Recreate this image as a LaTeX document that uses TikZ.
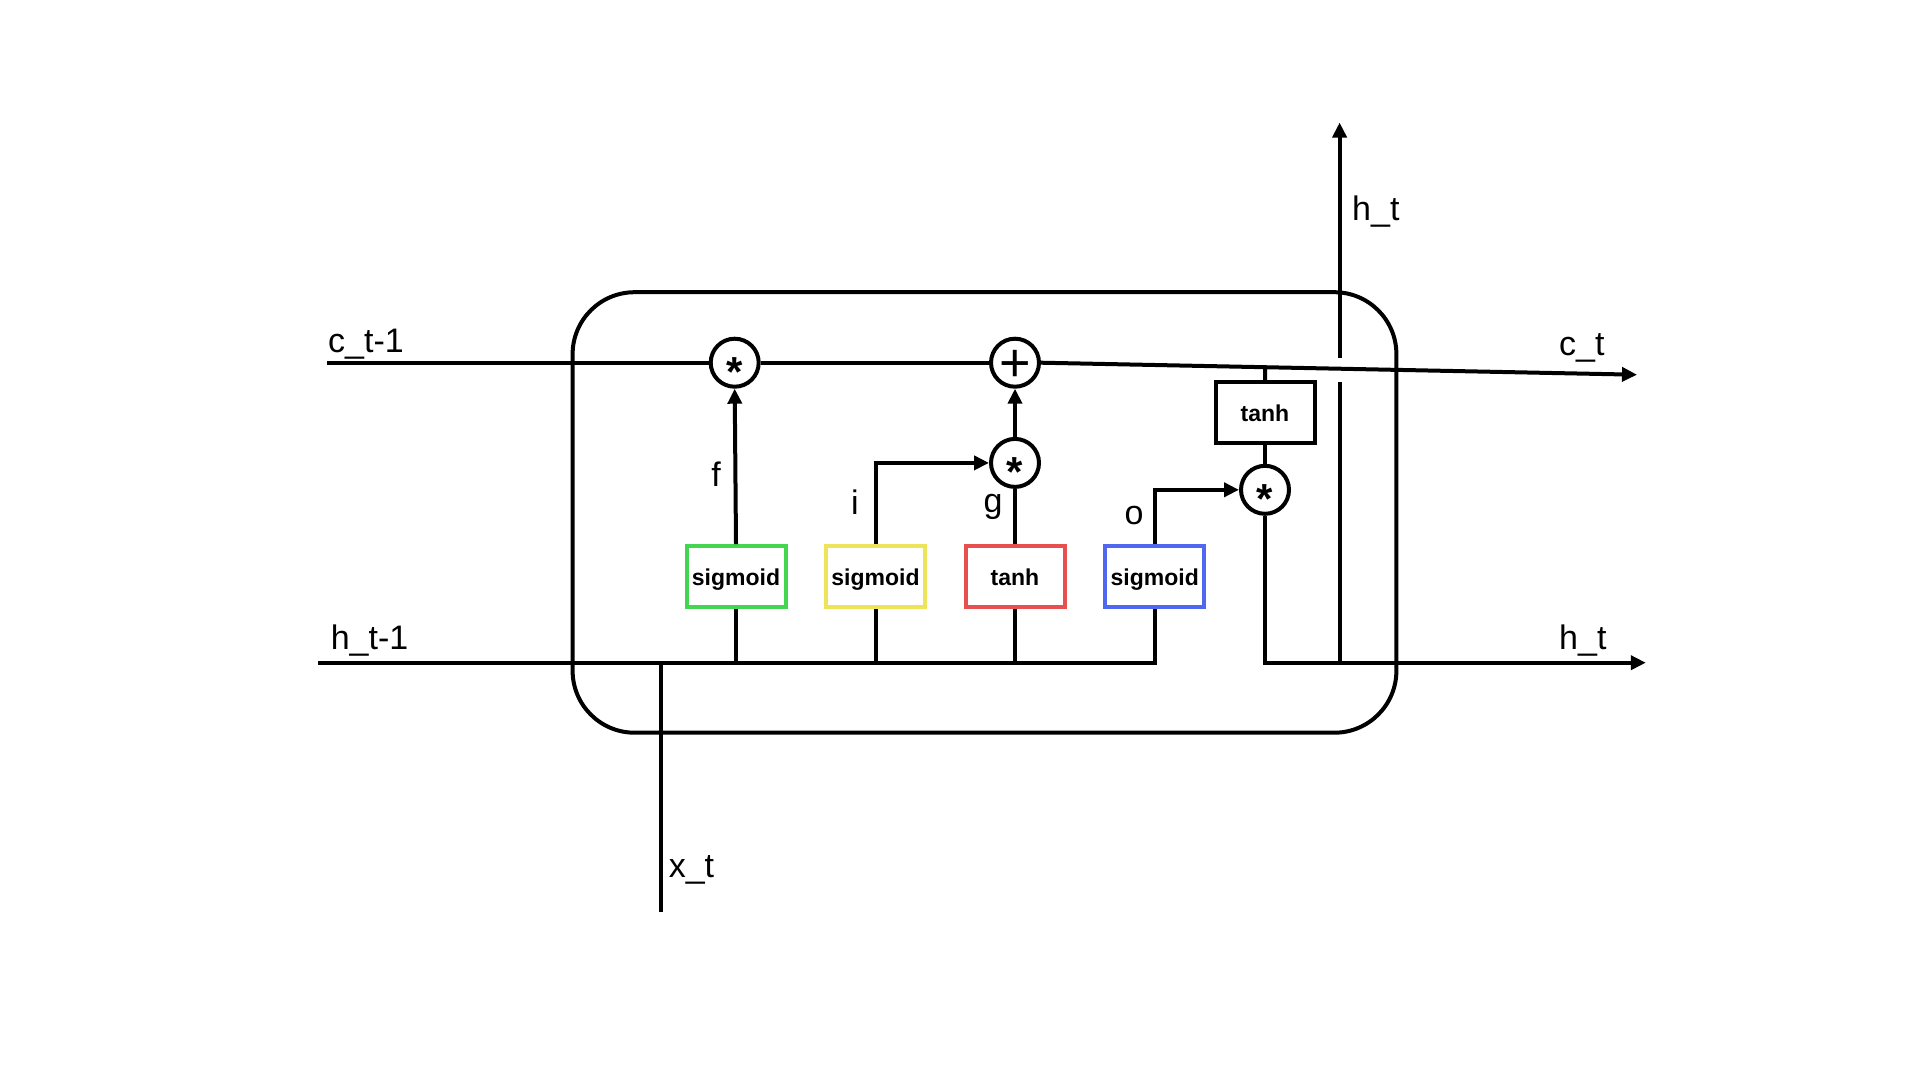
\documentclass[tikz,border=0pt]{standalone}
\usepackage{fontspec}
\setmainfont{Liberation Sans}
\usetikzlibrary{arrows.meta,calc}
\definecolor{gateGreen}{RGB}{68,214,80}
\definecolor{gateYellow}{RGB}{238,228,90}
\definecolor{gateRed}{RGB}{232,80,80}
\definecolor{gateBlue}{RGB}{80,104,240}
\begin{document}
\begin{tikzpicture}[x=1pt,y=-1pt,
  wire/.style={line width=4pt},
  arr/.style={wire,-{Triangle[length=15pt,width=14pt]}},
  gate/.style={draw,line width=4pt,minimum width=99pt,minimum height=61pt,inner sep=0pt,
    text height=17.4pt,text depth=0pt,
    font=\fontsize{23}{26}\selectfont\bfseries},
  op/.style={circle,draw,line width=4pt,minimum size=48pt,inner sep=0pt},
  mul/.style={op,font=\fontsize{42}{42}\selectfont\bfseries},
  lbl/.style={font=\fontsize{34}{40}\selectfont,inner sep=0pt,anchor=base west},
]
\useasboundingbox (0,0) rectangle (1920,1080);

% LSTM cell outline
\draw[wire,rounded corners=62pt] (572.6,292.2) rectangle (1396.4,732.7);

% pointwise operations
\node[mul] (mf) at (734.7,362.7) {\raisebox{-0.57em}[0pt][0pt]{*}};
\node[op,font=\fontsize{54}{54}\selectfont] (plus) at (1015,362.7) {\raisebox{-0.355em}[0pt][0pt]{+}};
\node[mul] (mi) at (1015,462.9) {\raisebox{-0.57em}[0pt][0pt]{*}};
\node[mul] (mo) at (1265,489.8) {\raisebox{-0.57em}[0pt][0pt]{*}};

% gate layers
\node[gate,draw=gateGreen] (fg) at (736,576.7) {sigmoid};
\node[gate,draw=gateYellow] (ig) at (875.5,576.7) {sigmoid};
\node[gate,draw=gateRed] (gg) at (1015,576.7) {tanh};
\node[gate,draw=gateBlue] (og) at (1154.7,576.7) {sigmoid};
\node[gate,draw=black] (tc) at (1265,412.7) {tanh};

% terminals
\coordinate (cin) at (327,362.7);
\coordinate (cout) at (1637,374.7);
\coordinate (hin) at (318.4,662.7);
\coordinate (hout) at (1645.8,662.7);
\coordinate (xbot) at (661.2,912.3);
\coordinate (hup) at (1339.6,662.7);
\coordinate (hgapl) at (1339.6,382);
\coordinate (hgapu) at (1339.6,357.5);
\coordinate (htop) at (1339.6,122.5);

% cell state path
\draw[wire] (cin) -- (mf.west);
\draw[wire] (mf.east) -- (plus.west);
\draw[arr] (plus.east) -- (cout);
\draw[wire] (tc.north) -- ($(plus.east)!(tc.north)!(cout)$);

% hidden state and input bus
\draw[wire] (hin) -| (og.south);
\draw[wire] (xbot) -- (xbot |- hin);
\draw[wire] (fg.south) -- (fg.south |- hin);
\draw[wire] (ig.south) -- (ig.south |- hin);
\draw[wire] (gg.south) -- (gg.south |- hin);

% gate outputs
\draw[arr] (fg.north) -- (mf.south);
\draw[arr] (ig.north) |- (mi.west);
\draw[wire] (gg.north) -- (mi.south);
\draw[arr] (mi.north) -- (plus.south);
\draw[arr] (og.north) |- (mo.west);
\draw[wire] (tc.south) -- (mo.north);

% hidden state output
\draw[arr] (mo.south) |- (hout);
\draw[wire] (hup) -- (hgapl);
\draw[arr] (hgapu) -- (htop);

% labels
\node[lbl] (lc) at (328,352.6) {c\_t-1};
\node[lbl] (lh) at (330.6,649) {h\_t-1};
\node[lbl] (lct) at (1559,355) {c\_t};
\node[lbl] (lht) at (1559,649) {h\_t};
\node[lbl] (lhu) at (1352,220.5) {h\_t};
\node[lbl] (lx) at (668.6,877) {x\_t};
\node[lbl,anchor=base] (lf) at (716,486) {f};
\node[lbl,anchor=base] (li) at (855,514) {i};
\node[lbl,anchor=base] (lg) at (993,512) {g};
\node[lbl,anchor=base] (lo) at (1134,524) {o};
\end{tikzpicture}
\end{document}
